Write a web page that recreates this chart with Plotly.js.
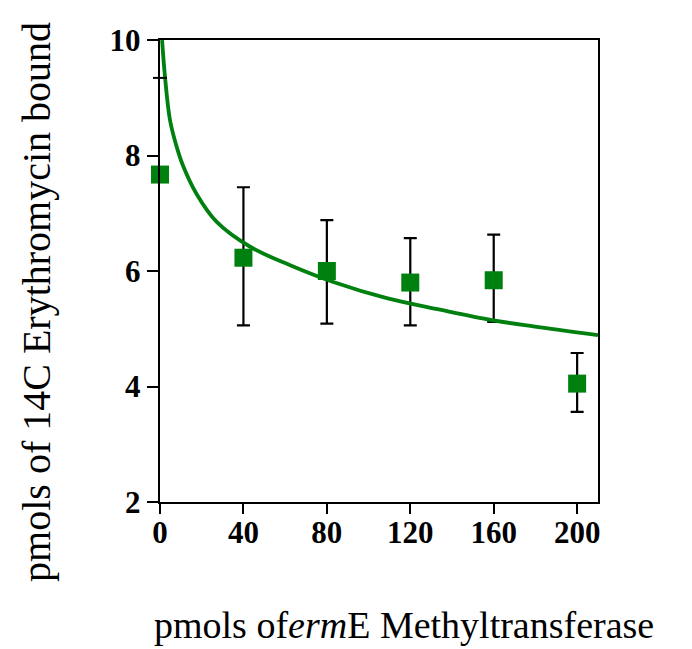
<!DOCTYPE html>
<html>
<head>
<meta charset="utf-8">
<script src="https://cdn.plot.ly/plotly-3.0.1.min.js"></script>
<style>
  html, body { margin: 0; padding: 0; background: #fff; }
  #chart { width: 692px; height: 649px; }
</style>
</head>
<body>
<div id="chart"></div>
<script>
// Measured binding: pmols of enzyme added vs. pmols of bound erythromycin
const enzymeAmounts = [0, 40, 80, 120, 160, 200];
const boundMeans    = [7.67, 6.23, 6.0, 5.8, 5.84, 4.05];
const errUpper      = [0, 1.22, 0.88, 0.77, 0.79, 0.53];
const errLower      = [0, 1.17, 0.91, 0.74, 0.72, 0.49];

// Fitted binding curve
const fitX = [1, 2.4, 4.8, 8, 11.2, 17.6, 27.2, 43.2, 62.4, 83.1, 108.7, 134.3, 159.1, 179, 210];
const fitY = [10, 9.36, 8.61, 8.15, 7.81, 7.33, 6.85, 6.42, 6.10, 5.81, 5.53, 5.33, 5.15, 5.04, 4.89];

const xTicks = [0, 40, 80, 120, 160, 200];
const yTicks = [2, 4, 6, 8, 10];

const green = '#00800f';
const serif = '"Liberation Serif", "Times New Roman", serif';
const tickFont = { family: serif, size: 31, weight: 'bold', color: '#000' };

const traces = [
  {
    // error bars sit underneath the curve and markers
    x: enzymeAmounts, y: boundMeans, type: 'scatter', mode: 'markers',
    marker: { size: 18, symbol: 'square', color: 'rgba(0,0,0,0)' },
    error_y: { type: 'data', symmetric: false, array: errUpper, arrayminus: errLower,
               color: '#000', thickness: 2.2, width: 6.5 },
    cliponaxis: false, hoverinfo: 'skip', showlegend: false
  },
  {
    x: fitX, y: fitY, type: 'scatter', mode: 'lines',
    line: { color: green, width: 3.8, shape: 'spline' },
    showlegend: false
  },
  {
    x: enzymeAmounts, y: boundMeans, type: 'scatter', mode: 'markers',
    marker: { size: 18, symbol: 'square', color: green },
    cliponaxis: false, showlegend: false
  },
  {
    // draws nothing; registers the label-only x axis
    x: enzymeAmounts, y: boundMeans, type: 'scatter', mode: 'none',
    xaxis: 'x2', yaxis: 'y', hoverinfo: 'skip', showlegend: false
  }
];

const layout = {
  width: 692, height: 649,
  margin: { l: 160, r: 94, t: 40, b: 147 },
  paper_bgcolor: '#fff', plot_bgcolor: '#fff',
  font: { family: serif, color: '#000' },
  showlegend: false,
  xaxis: {
    range: [0, 210], tickvals: xTicks, showticklabels: false,
    ticks: 'outside', ticklen: 10, tickwidth: 2, tickcolor: '#000',
    showline: true, linewidth: 2.4, linecolor: '#000', mirror: true,
    showgrid: false, zeroline: false
  },
  // label-only companion axis so the numbers sit close under the tick marks
  xaxis2: {
    overlaying: 'x', anchor: 'y', side: 'bottom', matches: 'x',
    range: [0, 210], tickvals: xTicks, ticktext: xTicks.map(String),
    ticks: '', ticklabelstandoff: 9,
    showline: false, showgrid: false, zeroline: false,
    tickfont: tickFont
  },
  yaxis: {
    range: [2, 10], tickvals: yTicks, ticktext: yTicks.map(String),
    ticks: 'outside', ticklen: 11, tickwidth: 2, tickcolor: '#000',
    showline: true, linewidth: 2.4, linecolor: '#000', mirror: true,
    showgrid: false, zeroline: false,
    tickfont: tickFont
  },
  shapes: [
    // small tick crossing the left axis near the top
    { type: 'line', xref: 'paper', yref: 'paper', x0: -0.016, x1: 0.016, y0: 0.918, y1: 0.918,
      line: { color: '#000', width: 2 } }
  ],
  annotations: [
    {
      text: 'pmols of 14C Erythromycin bound', textangle: -90,
      xref: 'paper', yref: 'paper', x: -0.281, y: 0.433,
      xanchor: 'center', yanchor: 'middle', showarrow: false,
      font: { family: serif, size: 40, color: '#000' }
    },
    {
      text: 'pmols of<i>erm</i>E Methyltransferase',
      xref: 'paper', yref: 'paper', x: 0.557, y: -0.266,
      xanchor: 'center', yanchor: 'middle', showarrow: false,
      font: { family: serif, size: 38, color: '#000' }
    }
  ]
};

Plotly.newPlot('chart', traces, layout, { displayModeBar: false, staticPlot: true });
</script>
</body>
</html>
